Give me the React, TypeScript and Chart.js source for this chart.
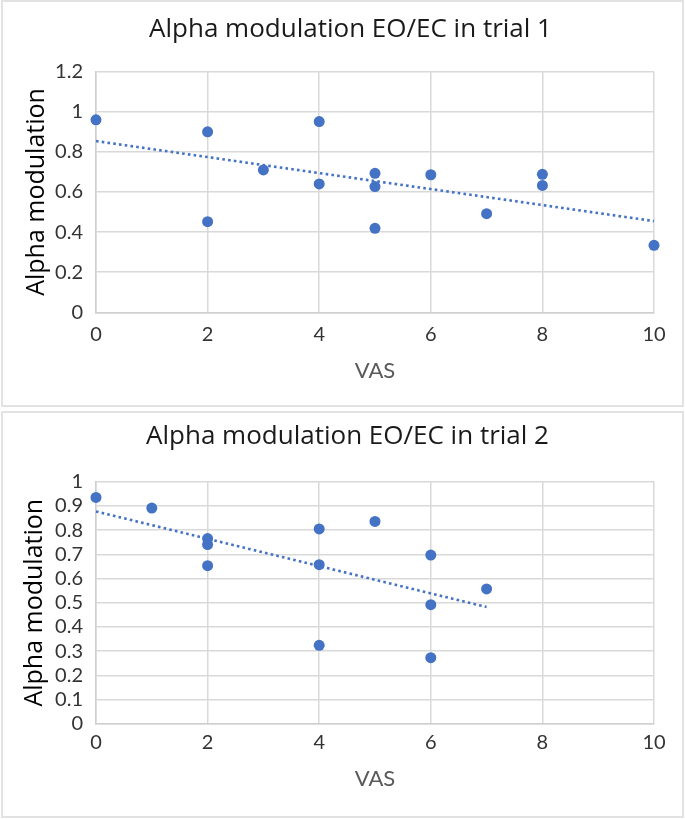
import React, { useEffect, useRef } from "react";
import { Chart, registerables } from "chart.js";

Chart.register(...registerables);

// ---- Data ----
const title1 = "Alpha modulation EO/EC in trial 1";
const vas1 = [0, 2, 2, 3, 4, 4, 5, 5, 5, 6, 7, 8, 8, 10];
const alpha1 = [0.96, 0.9, 0.452, 0.71, 0.951, 0.64, 0.693, 0.627, 0.419, 0.686, 0.492, 0.688, 0.633, 0.334];
const trendX1 = [0, 10];
const trendY1 = [0.854, 0.455];
const yTicks1 = [0, 0.2, 0.4, 0.6, 0.8, 1, 1.2];

const title2 = "Alpha modulation EO/EC in trial 2";
const vas2 = [0, 1, 2, 2, 2, 4, 4, 4, 5, 6, 6, 6, 7];
const alpha2 = [0.935, 0.891, 0.765, 0.74, 0.653, 0.805, 0.657, 0.324, 0.836, 0.697, 0.492, 0.273, 0.557];
const trendX2 = [0, 7];
const trendY2 = [0.877, 0.482];
const yTicks2 = [0, 0.1, 0.2, 0.3, 0.4, 0.5, 0.6, 0.7, 0.8, 0.9, 1];

const xTicks = [0, 2, 4, 6, 8, 10];
const xTitle = "VAS";
const yTitle = "Alpha modulation";

const BLUE = "#4472C4";
const GRID = "#d9d9d9";
const CW = 679;
const CH = 403;
const PLOT_LEFT = 93;
const PAD_RIGHT = 28;

type PanelProps = {
  top: number;
  title: string;
  xs: number[];
  ys: number[];
  tx: number[];
  ty: number[];
  yTicks: number[];
  plotBottom: number;
  padLeft: number;
  titlePadTop: number;
  titlePadBottom: number;
  xTickPad: number;
  xTitlePad: number;
  yTitleCenter: number;
};

function Panel(p: PanelProps) {
  const ref = useRef<HTMLCanvasElement | null>(null);
  useEffect(() => {
    if (!ref.current) return;
    const points = p.xs.map((x, i) => ({ x, y: p.ys[i] }));
    const trend = p.tx.map((x, i) => ({ x, y: p.ty[i] }));
    const yMax = p.yTicks[p.yTicks.length - 1];
    const yTitleSize = 25;
    const yTitlePad = p.yTitleCenter - p.padLeft - (yTitleSize * 1.2) / 2;
    const chart = new Chart(ref.current, {
      type: "scatter",
      data: {
        datasets: [
          {
            type: "line",
            data: trend,
            borderColor: BLUE,
            borderWidth: 2.6,
            borderDash: [2.6, 3.2],
            pointRadius: 0,
            fill: false,
            clip: false,
            order: 2,
          } as any,
          {
            type: "scatter",
            data: points,
            backgroundColor: BLUE,
            borderColor: BLUE,
            borderWidth: 0,
            pointRadius: 5.5,
            clip: false,
            order: 1,
          } as any,
        ],
      },
      options: {
        responsive: false,
        animation: false,
        devicePixelRatio: 1,
        layout: { padding: { left: p.padLeft, right: PAD_RIGHT, top: 0, bottom: 0 } },
        plugins: {
          legend: { display: false },
          tooltip: { enabled: false },
          title: {
            display: true,
            text: p.title,
            color: "#1a1a1a",
            font: { family: "'Open Sans', sans-serif", size: 26, weight: "normal" },
            padding: { top: p.titlePadTop, bottom: p.titlePadBottom },
          },
        },
        scales: {
          x: {
            type: "linear",
            min: 0,
            max: 10,
            afterFit: (s: any) => {
              s.height = CH - p.plotBottom;
            },
            afterBuildTicks: (s: any) => {
              s.ticks = xTicks.map((v) => ({ value: v }));
            },
            ticks: {
              padding: p.xTickPad,
              color: "#333333",
              font: { family: "Lato, sans-serif", size: 20 },
              autoSkip: false,
              maxRotation: 0,
            },
            grid: { color: GRID, lineWidth: 1.5, drawTicks: false },
            border: { color: "#cfcfcf", width: 1.5 },
            title: {
              display: true,
              text: xTitle,
              color: "#595959",
              font: { family: "Lato, sans-serif", size: 22 },
              padding: { top: 0, bottom: p.xTitlePad },
            },
          },
          y: {
            type: "linear",
            min: 0,
            max: yMax,
            afterFit: (s: any) => {
              s.width = PLOT_LEFT - p.padLeft;
            },
            afterBuildTicks: (s: any) => {
              s.ticks = p.yTicks.map((v) => ({ value: v }));
            },
            ticks: {
              padding: 13,
              color: "#333333",
              font: { family: "Lato, sans-serif", size: 20 },
              autoSkip: false,
              callback: (v: any) => String(Number(Number(v).toFixed(2))),
            },
            grid: { color: GRID, lineWidth: 1.5, drawTicks: false },
            border: { color: "#cfcfcf", width: 1.5 },
            title: {
              display: true,
              text: yTitle,
              color: "#000000",
              font: { family: "'Open Sans', sans-serif", size: yTitleSize },
              padding: { top: yTitlePad, bottom: 0 },
            },
          },
        },
      } as any,
    });
    return () => chart.destroy();
  }, []);
  return (
    <div
      style={{
        position: "absolute",
        left: 1,
        top: p.top,
        width: 683,
        height: 407,
        boxSizing: "border-box",
        border: "2px solid #e2e2e2",
        background: "#fff",
      }}
    >
      <canvas ref={ref} width={CW} height={CH} style={{ display: "block" }} />
    </div>
  );
}

export default function App() {
  return (
    <div style={{ position: "absolute", left: 0, top: 0, width: 685, height: 819, background: "#fff" }}>
      <Panel
        top={0}
        title={title1}
        xs={vas1}
        ys={alpha1}
        tx={trendX1}
        ty={trendY1}
        yTicks={yTicks1}
        plotBottom={310.3}
        padLeft={44}
        titlePadTop={12.4}
        titlePadBottom={26.1}
        xTickPad={10.7}
        xTitlePad={21.3}
        yTitleCenter={34}
      />
      <Panel
        top={411}
        title={title2}
        xs={vas2}
        ys={alpha2}
        tx={trendX2}
        ty={trendY2}
        yTicks={yTicks2}
        plotBottom={310.7}
        padLeft={38}
        titlePadTop={8.4}
        titlePadBottom={29.1}
        xTickPad={6.8}
        xTitlePad={23.6}
        yTitleCenter={32}
      />
    </div>
  );
}
